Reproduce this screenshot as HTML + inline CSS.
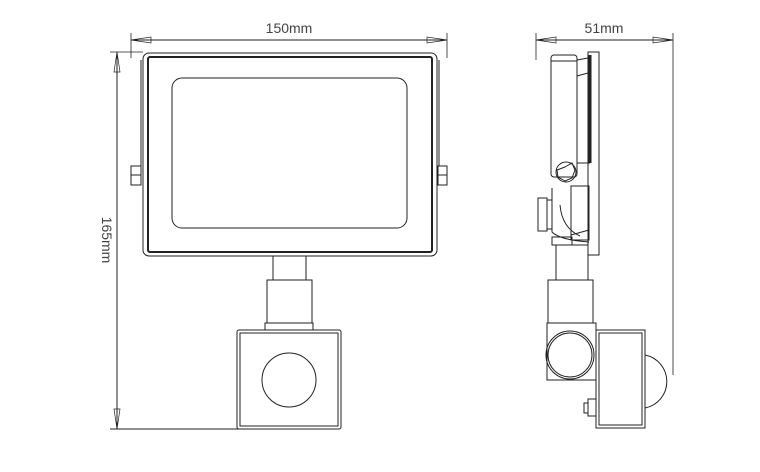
<!DOCTYPE html>
<html><head><meta charset="utf-8"><style>
html,body{margin:0;padding:0;background:#fff;}
svg{display:block}
text{font-family:"Liberation Sans",sans-serif;font-size:14px;fill:#444}
</style></head><body>
<svg width="760" height="472" viewBox="0 0 760 472" xmlns="http://www.w3.org/2000/svg">
<g fill="none" stroke="#222" stroke-width="1">
<!-- top dimension front -->
<line x1="131" y1="33" x2="131" y2="58" stroke-width="0.8"/>
<line x1="447" y1="33" x2="447" y2="58" stroke-width="0.8"/>
<line x1="131" y1="40" x2="447" y2="40"/>
<path d="M131 40 L151 37 L151 43 Z" stroke-width="0.7"/>
<path d="M447 40 L427 37 L427 43 Z" stroke-width="0.7"/>
<!-- vertical dimension -->
<line x1="110" y1="52" x2="143" y2="52" stroke-width="0.8"/>
<line x1="110" y1="429" x2="240" y2="429"/>
<line x1="117" y1="52" x2="117" y2="429"/>
<path d="M117 52 L114 72 L120 72 Z" stroke-width="0.7"/>
<path d="M117 429 L114 409 L120 409 Z" stroke-width="0.7"/>
<!-- front body -->
<rect x="143" y="53" width="294" height="203" rx="6"/>
<rect x="148" y="57" width="284" height="195" rx="2" stroke-width="2"/>
<rect x="172" y="78" width="235" height="150" rx="10"/>
<rect x="131" y="166" width="10" height="19"/><line x1="131" y1="175" x2="141" y2="175"/>
<rect x="438" y="166" width="9" height="19"/><line x1="438" y1="175" x2="447" y2="175"/>
<line x1="141" y1="60" x2="141" y2="166"/><line x1="439" y1="60" x2="439" y2="166"/>
<!-- neck -->
<rect x="273" y="256" width="33" height="24"/>
<rect x="267" y="280" width="45" height="43"/>
<rect x="265" y="323" width="48" height="7"/>
<rect x="237" y="330" width="104" height="99" rx="2"/>
<rect x="240" y="333" width="98" height="93"/>
<circle cx="289" cy="380" r="27"/>
<!-- side view dims -->
<line x1="536" y1="33" x2="536" y2="60" stroke-width="0.8"/>
<line x1="673" y1="33" x2="673" y2="375" stroke-width="0.8"/>
<line x1="536" y1="40" x2="673" y2="40"/>
<path d="M536 40 L556 37 L556 43 Z" stroke-width="0.7"/>
<path d="M673 40 L653 37 L653 43 Z" stroke-width="0.7"/>
<!-- side body -->
<rect x="551" y="55" width="26" height="122" rx="3"/>
<line x1="551" y1="61" x2="577" y2="61"/>
<rect x="588" y="52" width="11" height="203"/>
<line x1="590" y1="55" x2="590" y2="163" stroke-width="3"/>
<line x1="577" y1="60" x2="588" y2="58"/><line x1="577" y1="76" x2="588" y2="73"/>
<line x1="577" y1="163" x2="590" y2="163"/>
<polygon points="565,167 572,163 575,170 572,178 565,181 558,177 557,170" />
<circle cx="566" cy="172" r="10"/>
<rect x="571" y="186" width="18" height="54"/>
<rect x="538" y="198" width="9" height="33"/>
<rect x="547" y="200" width="5" height="29"/>
<path d="M552 188 L552 232 Q560 240 589 242"/>
<path d="M560 205 Q562 228 580 236"/>
<line x1="571" y1="235" x2="589" y2="230"/>
<rect x="552" y="237" width="20" height="8"/>
<rect x="556" y="245" width="32" height="35"/>
<rect x="548" y="280" width="45" height="43"/>
<rect x="547" y="323" width="49" height="57"/>
<circle cx="570" cy="355" r="24"/><circle cx="570" cy="355" r="22"/>
<rect x="596" y="330" width="49" height="98"/>
<rect x="599" y="333" width="43" height="92"/>
<path d="M645 355 A27 27 0 0 1 645 408"/>
<rect x="588" y="399" width="8" height="17"/>
<rect x="584" y="403" width="4" height="10"/>
</g>
<text x="289" y="33" text-anchor="middle">150mm</text>
<text x="604" y="33" text-anchor="middle">51mm</text>
<text transform="translate(102,240) rotate(90)" text-anchor="middle">165mm</text>
</svg>
</body></html>
